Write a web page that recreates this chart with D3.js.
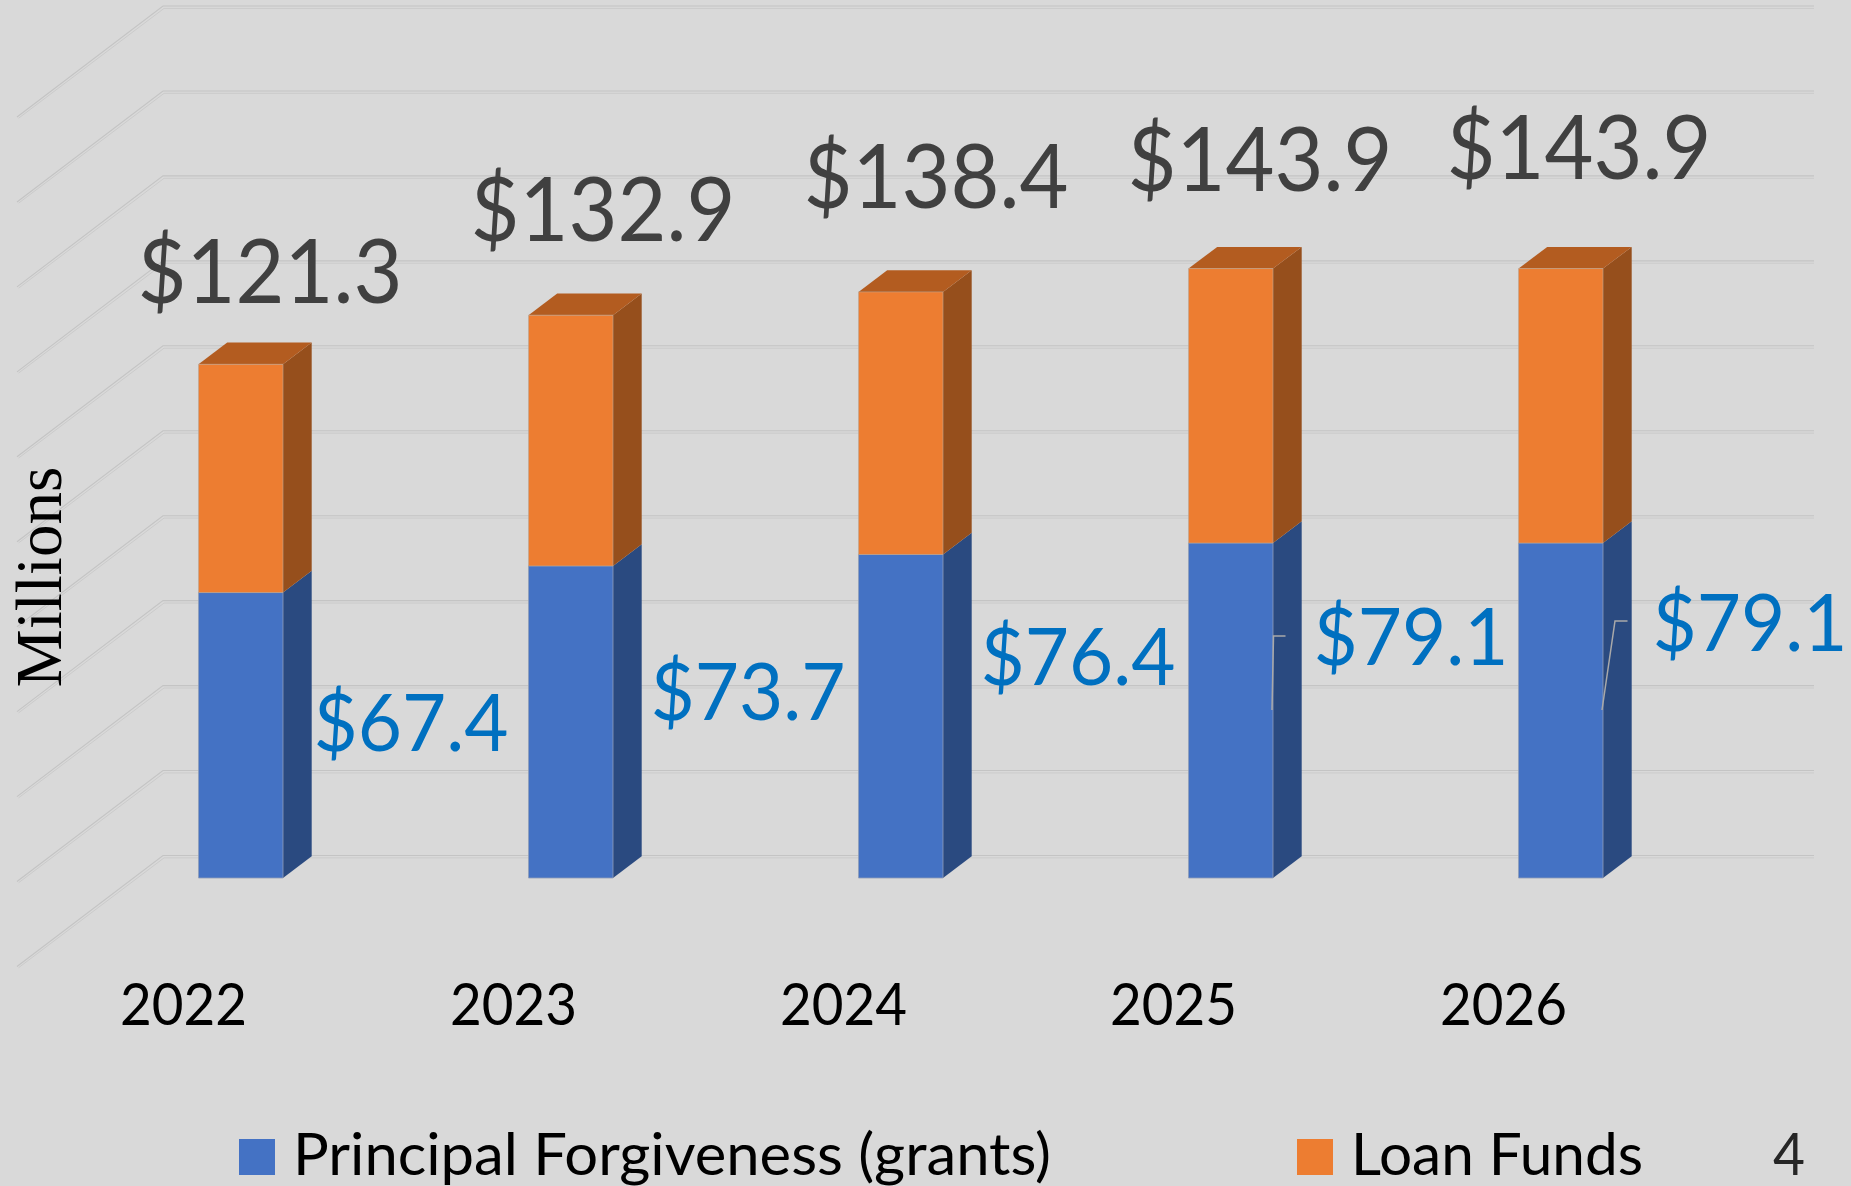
<!DOCTYPE html>
<html><head><meta charset="utf-8">
<script src="https://cdn.jsdelivr.net/npm/d3@7"></script>
<style>html,body{margin:0;padding:0;background:#d9d9d9;overflow:hidden}svg{display:block}text{font-family:Lato,"Open Sans",sans-serif}</style>
</head><body><svg id="c" width="1851" height="1186"></svg>
<script>
const categories = ["2022","2023","2024","2025","2026"];
const grants = [67.4,73.7,76.4,79.1,79.1];
const loans = [53.9,59.2,62.0,64.8,64.8];
const totals = [121.3,132.9,138.4,143.9,143.9];
const gridTicks = [0,20,40,60,80,100,120,140,160,180,200];
const seriesNames = ["Principal Forgiveness (grants)","Loan Funds"];
const colors = {grant:"#4472c4",grantSide:"#2a4a80",loan:"#ed7d31",loanSide:"#964f1c",loanTop:"#b35c20"};

const svg = d3.select("#c");
const barW = 84.5, dx = 28.7, dy = 21.7;
const x = d3.scalePoint().domain(categories).range([198.5,198.5+330*4]);
const y = d3.scaleLinear().domain([0,200]).range([878,31]);
const yBack = d3.scaleLinear().domain([0,200]).range([855.5,6]);
const wallX0 = 17, wallX1 = 163, wallX2 = 1814, wallDy = 111;

// gridlines
const g = svg.append("g");
gridTicks.forEach(t=>{
  const yb = yBack(t);
  g.append("path").attr("d",`M${wallX0},${yb+wallDy}L${wallX1},${yb}L${wallX2},${yb}`)
   .attr("fill","none").attr("stroke","#c4c4c4").attr("stroke-width",1.1);
  g.append("path").attr("d",`M${wallX0+1.6},${yb+wallDy+1.2}L${wallX1+1},${yb+2.4}L${wallX2},${yb+2.4}`)
   .attr("fill","none").attr("stroke","#cbcbcb").attr("stroke-width",1);
});

// bars
const bars = svg.append("g").selectAll("g").data(categories).join("g");
const poly = (sel,fn,fill)=>sel.append("path").attr("d",fn).attr("fill",fill);
const rectPath = (x0,x1,y0,y1)=>`M${x0},${y0}L${x1},${y0}L${x1},${y1}L${x0},${y1}Z`;
const sidePath = (xr,y0,y1)=>`M${xr},${y0}L${xr+dx},${y0-dy}L${xr+dx},${y1-dy}L${xr},${y1}Z`;
poly(bars,(c,i)=>sidePath(x(c)+barW,y(0),y(grants[i])),colors.grantSide);
poly(bars,(c,i)=>sidePath(x(c)+barW,y(grants[i]),y(grants[i]+loans[i])),colors.loanSide);
poly(bars,(c,i)=>{const t=y(grants[i]+loans[i]),l=x(c);return `M${l},${t}L${l+barW},${t}L${l+barW+dx},${t-dy}L${l+dx},${t-dy}Z`;},colors.loanTop);
poly(bars,(c,i)=>rectPath(x(c),x(c)+barW,y(0),y(grants[i])),colors.grant).attr("stroke","#8f9db8").attr("stroke-width",0.8);
poly(bars,(c,i)=>rectPath(x(c),x(c)+barW,y(grants[i]),y(grants[i]+loans[i])),colors.loan).attr("stroke","#b9a898").attr("stroke-width",0.6);

// leader lines
const leaders = {3:[1.5,12,74],4:[13,12.5,89]};
Object.entries(leaders).forEach(([i,[a,b,h]])=>{
  const l = x(categories[i])+barW-1, yy = 710;
  svg.append("path").attr("d",`M${l},${yy}L${l+a},${yy-h}L${l+a+b},${yy-h}`)
    .attr("fill","none").attr("stroke","#a9a9a9").attr("stroke-width",1.5);
});

// total labels
const totalPos = [[270,303],[603,241],[936,208],[1260,191],[1579,179]];
svg.append("g").selectAll("text").data(totals).join("text")
  .attr("x",(d,i)=>totalPos[i][0]).attr("y",(d,i)=>totalPos[i][1])
  .attr("text-anchor","middle").attr("font-size",90).attr("fill","#404040")
  .attr("textLength",265).attr("lengthAdjust","spacingAndGlyphs")
  .text(d=>"$"+d.toFixed(1));

// grant labels
const grantPos = [[411,751],[748,720],[1078,685],[1411,665],[1750,651]];
svg.append("g").selectAll("text").data(grants).join("text")
  .attr("x",(d,i)=>grantPos[i][0]).attr("y",(d,i)=>grantPos[i][1])
  .attr("text-anchor","middle").attr("font-size",80).attr("fill","#0070c0")
  .attr("textLength",195).attr("lengthAdjust","spacingAndGlyphs")
  .text(d=>"$"+d.toFixed(1));

// category axis
const axisScale = d3.scalePoint().domain(categories).range([183,183+330*4]);
const ax = svg.append("g").attr("transform","translate(0,1025)")
  .call(d3.axisBottom(axisScale).tickSize(0).tickPadding(0));
ax.select(".domain").remove();
ax.selectAll("text").attr("font-size",59).attr("fill","#000").attr("dy",0).attr("y",0)
  .attr("textLength",127).attr("lengthAdjust","spacingAndGlyphs")
  .style("font-family","Lato,sans-serif");

// y title
svg.append("text").attr("transform","translate(61,577) rotate(-90)")
  .attr("text-anchor","middle").attr("font-size",65).attr("fill","#000")
  .style("font-family","'Liberation Serif',serif").text("Millions");

// legend
const legendX = [239,1297], textX = [293,1351], legendC = [colors.grant,colors.loan], textW = [758,292];
seriesNames.forEach((n,i)=>{
  svg.append("rect").attr("x",legendX[i]).attr("y",1139).attr("width",36).attr("height",36).attr("fill",legendC[i]);
  svg.append("text").attr("x",textX[i]).attr("y",1175).attr("font-size",58).attr("fill","#000")
    .attr("textLength",textW[i]).attr("lengthAdjust","spacingAndGlyphs").text(n);
});
svg.append("text").attr("x",1789).attr("y",1175).attr("text-anchor","middle").attr("font-size",58).attr("fill","#262626")
  .attr("textLength",32).attr("lengthAdjust","spacingAndGlyphs").text("4");
</script></body></html>
